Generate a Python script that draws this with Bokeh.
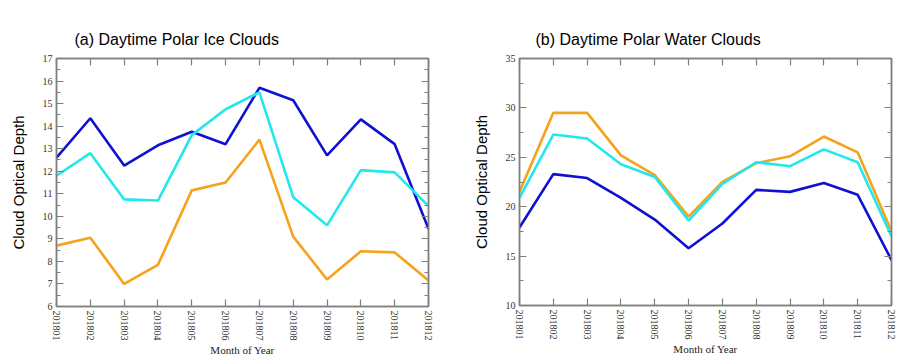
from bokeh.plotting import figure
from bokeh.layouts import row
from bokeh.models import LinearAxis, FixedTicker, Range1d, CustomJSTickFormatter
from bokeh.embed import file_html
from bokeh.resources import INLINE

months = ["201801", "201802", "201803", "201804", "201805", "201806",
          "201807", "201808", "201809", "201810", "201811", "201812"]

ice_blue = [12.6, 14.35, 12.25, 13.15, 13.75, 13.2, 15.7, 15.15, 12.7, 14.3, 13.2, 9.45]
ice_cyan = [11.8, 12.8, 10.75, 10.7, 13.6, 14.75, 15.5, 10.85, 9.6, 12.05, 11.95, 10.45]
ice_orange = [8.7, 9.05, 7.0, 7.85, 11.15, 11.5, 13.4, 9.1, 7.2, 8.45, 8.4, 7.15]

water_orange = [21.5, 29.5, 29.5, 25.2, 23.2, 19.0, 22.5, 24.4, 25.1, 27.1, 25.5, 17.5]
water_cyan = [20.9, 27.3, 26.9, 24.3, 23.0, 18.6, 22.3, 24.5, 24.1, 25.8, 24.5, 17.0]
water_blue = [17.9, 23.3, 22.9, 20.9, 18.7, 15.8, 18.3, 21.7, 21.5, 22.4, 21.2, 14.6]

ice_yticks = list(range(6, 18))
ice_yminor = [v + 0.5 for v in range(6, 17)]
water_yticks = [10, 15, 20, 25, 30, 35]
water_yminor = [12.5, 17.5, 22.5, 27.5, 32.5]

BLUE = "#1010d0"
CYAN = "#22e8ee"
ORANGE = "#f5a31a"
GRAY = "#808080"
SERIF = "Liberation Serif"
SANS = "Liberation Sans"


def make(title, ylo, yhi, yticks, yminor, series, fw, fh,
         bl, br, bt, bb, toff, ystand):
    p = figure(frame_width=fw, frame_height=fh, output_backend="svg",
               toolbar_location=None, x_range=Range1d(0, 11),
               y_range=Range1d(ylo, yhi),
               min_border_left=bl, min_border_right=br,
               min_border_top=bt, min_border_bottom=bb,
               background_fill_color="white", border_fill_color="white")
    p.grid.visible = False
    p.outline_line_color = GRAY
    p.outline_line_width = 1.5
    x = list(range(len(months)))
    for vals, col in series:
        p.line(x, vals, line_color=col, line_width=2.6)

    p.title.text = title
    p.title.text_font = SANS
    p.title.text_font_size = "16px"
    p.title.text_font_style = "normal"
    p.title.text_color = "black"
    p.title.align = "left"
    p.title.offset = toff
    p.title.standoff = 21

    xt = FixedTicker(ticks=x)
    yt = FixedTicker(ticks=yticks, minor_ticks=yminor)
    overrides = {i: m for i, m in enumerate(months)}

    xa = p.xaxis[0]
    xa.ticker = xt
    xa.major_label_overrides = overrides
    xa.major_label_orientation = "vertical"
    xa.axis_label = "Month of Year"
    ya = p.yaxis[0]
    ya.ticker = yt
    ya.axis_label = "Cloud Optical Depth"

    blank = CustomJSTickFormatter(code="return ''")
    top = LinearAxis(ticker=xt, formatter=blank)
    right = LinearAxis(ticker=yt, formatter=blank)
    p.add_layout(top, "above")
    p.add_layout(right, "right")

    for ax in [xa, ya, top, right]:
        ax.axis_line_color = GRAY
        ax.axis_line_width = 1.5
        ax.major_tick_line_color = GRAY
        ax.minor_tick_line_color = GRAY
        ax.major_tick_line_width = 1.2
        ax.minor_tick_line_width = 1.2
        ax.major_tick_in = 7
        ax.major_tick_out = 0
        ax.minor_tick_in = 4
        ax.minor_tick_out = 0
        ax.major_label_text_font = SERIF
        ax.major_label_text_font_size = "10px"
        ax.major_label_text_color = "#333333"
    for ax in [top, right]:
        ax.major_label_standoff = 0
    xa.minor_tick_line_color = None
    top.minor_tick_line_color = None
    xa.major_label_standoff = 4
    xa.axis_label_standoff = 0
    xa.axis_label_text_font = SERIF
    xa.axis_label_text_font_size = "11px"
    xa.axis_label_text_font_style = "normal"
    xa.axis_label_text_color = "#222222"
    ya.major_label_standoff = 4
    ya.axis_label_standoff = ystand
    ya.axis_label_text_font = SANS
    ya.axis_label_text_font_size = "15px"
    ya.axis_label_text_font_style = "normal"
    ya.axis_label_text_color = "black"
    return p


p1 = make("(a)  Daytime Polar Ice Clouds", 6, 17, ice_yticks, ice_yminor,
          [(ice_blue, BLUE), (ice_cyan, CYAN), (ice_orange, ORANGE)],
          372, 248, 56, 29, 55, 40, 18, 13)
p2 = make("(b) Daytime Polar Water Clouds", 10, 35, water_yticks, water_yminor,
          [(water_orange, ORANGE), (water_cyan, CYAN), (water_blue, BLUE)],
          372, 247, 62, 10, 58, 38, 16, 13)

layout = row(p1, p2)
open("out.html", "w").write(file_html(layout, INLINE))
